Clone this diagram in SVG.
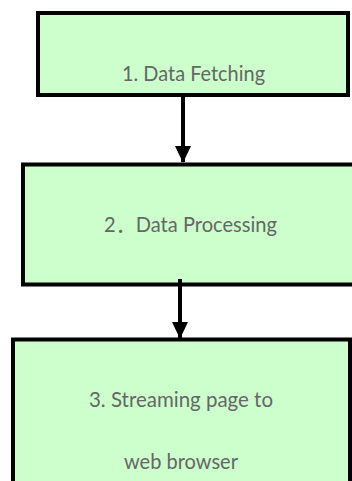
<svg xmlns="http://www.w3.org/2000/svg" width="352" height="481" viewBox="0 0 352 481">
<defs>
<style>
.box{fill:#ccffcc;stroke:#000;stroke-width:4}
.lbl{font-family:"Source Sans Pro",Lato,"Noto Sans",sans-serif;font-size:21px;fill:#666666;text-anchor:middle}
.cjk{font-family:"Noto Sans CJK JP",sans-serif}
.conn{stroke:#000;stroke-width:4;fill:none}
</style>
<marker id="ah" markerWidth="4.2" markerHeight="4" refX="4" refY="2" orient="auto" markerUnits="strokeWidth">
<path d="M0,0 L4.2,2 L0,4 Z" fill="#000"/>
</marker>
</defs>
<g id="n1">
<rect class="box" x="38" y="13" width="310" height="82"/>
<text class="lbl" x="193.5" y="80.5" textLength="143" lengthAdjust="spacingAndGlyphs">1. Data Fetching</text>
</g>
<g id="n2">
<rect class="box" x="23" y="164.5" width="335" height="120"/>
<text class="lbl" x="190.5" y="231.5" textLength="173" lengthAdjust="spacingAndGlyphs">2<tspan class="cjk">．</tspan>Data Processing</text>
</g>
<g id="n3">
<rect class="box" x="13" y="339.5" width="337" height="160"/>
<text class="lbl" x="181" y="406.5" textLength="184" lengthAdjust="spacingAndGlyphs">3. Streaming page to</text>
<text class="lbl" x="181" y="469" textLength="114" lengthAdjust="spacingAndGlyphs">web browser</text>
</g>
<g id="connectors">
<line class="conn" x1="183" y1="97" x2="183" y2="162" marker-end="url(#ah)"/>
<line class="conn" x1="180" y1="279" x2="180" y2="338" marker-end="url(#ah)"/>
</g>
</svg>
